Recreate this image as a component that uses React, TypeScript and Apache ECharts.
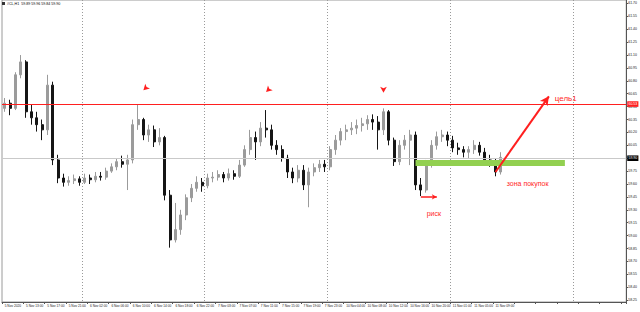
import { useEffect, useRef } from "react";
import * as echarts from "echarts";

const headerText = "#CL,H1  59.89 59.96 59.84 59.90";

const tickLabels = [
  "5 Nov 2020", "5 Nov 13:00", "5 Nov 17:00", "5 Nov 21:00", "6 Nov 02:00", "6 Nov 06:00",
  "6 Nov 10:00", "6 Nov 14:00", "6 Nov 18:00", "6 Nov 22:00", "7 Nov 03:00", "7 Nov 07:00",
  "7 Nov 11:00", "7 Nov 15:00", "7 Nov 19:00", "7 Nov 23:00", "10 Nov 04:00", "10 Nov 08:00",
  "10 Nov 12:00", "10 Nov 16:00", "10 Nov 20:00", "11 Nov 01:00", "11 Nov 05:00", "11 Nov 09:00",
];
const barsPerLabel = 4;
const totalSlots = 117;
const daySeparators = [15, 38, 61, 84, 107];

const opens = [
  60.48, 60.54, 60.48, 60.87, 61.02, 60.44, 60.37, 60.29, 60.23, 60.75,
  59.88, 59.67, 59.62, 59.64, 59.66, 59.62, 59.67, 59.65, 59.69, 59.68,
  59.75, 59.80, 59.86, 59.83, 59.88, 60.29, 60.35, 60.17, 60.23, 60.09,
  60.14, 59.47, 58.95, 59.07, 59.24, 59.44, 59.55, 59.62, 59.58, 59.67,
  59.68, 59.71, 59.67, 59.72, 59.69, 59.82, 60.00, 60.14, 60.09, 60.25,
  60.23, 60.05, 60.00, 59.90, 59.74, 59.67, 59.76, 59.59, 59.74, 59.79,
  59.83, 59.80, 60.00, 60.11, 60.21, 60.23, 60.25, 60.28, 60.30, 60.35,
  60.32, 60.23, 60.44, 60.11, 59.86, 60.05, 60.11, 60.17, 59.59, 59.53,
  59.82, 60.05, 60.15, 60.17, 60.11, 60.02, 60.00, 59.97, 60.00, 60.05,
  59.97, 59.88, 59.86, 59.74,
];
const closes = [
  60.54, 60.48, 60.87, 61.02, 60.44, 60.37, 60.29, 60.23, 60.75, 59.88,
  59.67, 59.62, 59.64, 59.66, 59.62, 59.67, 59.65, 59.69, 59.68, 59.75,
  59.80, 59.86, 59.83, 59.88, 60.29, 60.35, 60.17, 60.23, 60.09, 60.14,
  59.47, 58.95, 59.07, 59.24, 59.44, 59.55, 59.62, 59.58, 59.67, 59.68,
  59.71, 59.67, 59.72, 59.69, 59.82, 60.00, 60.14, 60.09, 60.25, 60.23,
  60.05, 60.00, 59.90, 59.74, 59.67, 59.76, 59.59, 59.74, 59.79, 59.83,
  59.80, 60.00, 60.11, 60.21, 60.23, 60.25, 60.28, 60.30, 60.35, 60.32,
  60.23, 60.44, 60.11, 59.86, 60.05, 60.11, 60.17, 59.59, 59.53, 59.82,
  60.05, 60.15, 60.17, 60.11, 60.02, 60.00, 59.97, 60.00, 60.05, 59.97,
  59.88, 59.86, 59.74, 59.91,
];
const highs = [
  60.60, 60.58, 60.90, 61.10, 61.04, 60.52, 60.44, 60.35, 60.87, 60.79,
  59.94, 59.72, 59.69, 59.71, 59.69, 59.72, 59.71, 59.74, 59.74, 59.79,
  59.84, 59.90, 59.93, 59.94, 60.35, 60.52, 60.37, 60.29, 60.28, 60.25,
  60.16, 59.53, 59.38, 59.30, 59.48, 59.60, 59.69, 59.67, 59.72, 59.74,
  59.76, 59.74, 59.78, 59.76, 59.88, 60.05, 60.23, 60.21, 60.32, 60.46,
  60.29, 60.11, 60.05, 59.94, 59.79, 59.82, 59.82, 59.79, 59.84, 59.88,
  59.88, 60.04, 60.17, 60.25, 60.29, 60.32, 60.35, 60.37, 60.40, 60.41,
  60.39, 60.48, 60.46, 60.14, 60.11, 60.17, 60.23, 60.21, 59.67, 59.88,
  60.11, 60.21, 60.23, 60.21, 60.16, 60.08, 60.04, 60.04, 60.11, 60.09,
  60.02, 59.94, 59.90, 59.97,
];
const lows = [
  60.44, 60.40, 60.46, 60.83, 60.37, 60.29, 60.21, 60.11, 60.17, 59.82,
  59.61, 59.57, 59.58, 59.60, 59.58, 59.60, 59.60, 59.62, 59.64, 59.65,
  59.73, 59.76, 59.79, 59.53, 59.84, 60.23, 60.11, 60.09, 60.03, 60.05,
  59.41, 58.86, 58.92, 59.01, 59.18, 59.39, 59.51, 59.51, 59.55, 59.62,
  59.64, 59.62, 59.64, 59.65, 59.67, 59.80, 59.94, 59.88, 60.04, 60.14,
  60.00, 59.94, 59.86, 59.67, 59.61, 59.62, 59.53, 59.33, 59.69, 59.74,
  59.74, 59.76, 59.94, 60.05, 60.11, 60.17, 60.18, 60.21, 60.23, 60.23,
  60.00, 60.17, 60.05, 59.81, 59.82, 60.00, 59.82, 59.53, 59.46, 59.50,
  59.79, 60.00, 60.09, 60.04, 59.97, 59.94, 59.91, 59.90, 59.95, 59.93,
  59.82, 59.80, 59.69, 59.71,
];

const priceTicks = [
  58.25, 58.4, 58.55, 58.7, 58.85, 59.0, 59.15, 59.3, 59.45, 59.6, 59.75, 59.9,
  60.05, 60.2, 60.35, 60.5, 60.65, 60.8, 60.95, 61.1, 61.25, 61.4, 61.55, 61.7,
];
const yMin = 58.228;
const yMax = 61.74;

const targetLevel = 60.53;
const currentPrice = 59.9;

// annotations in data terms: [bar index, price]
const buyZone = [[77, 59.85], [105, 59.85]];
const bigArrow = [[92, 59.74], [101.5, 60.62]];
const riskArrow = [[78, 59.45], [81, 59.45]];
// pointers: [bar index, price, rotation]
const pointers = [[26, 60.69, 135], [49, 60.67, 135], [71, 60.66, 180]];
const notes = [
  { text: "цель1", at: [103, 60.6], size: 8 },
  { text: "зона покупок", at: [94, 59.61], size: 7 },
  { text: "риск", at: [79, 59.26], size: 7 },
];

const RED = "#ff1f1f";

export default function App() {
  const ref = useRef<HTMLDivElement>(null);
  useEffect(() => {
    if (!ref.current) return;
    const chart = echarts.init(ref.current, null, { renderer: "svg" });
    const categories = Array.from({ length: totalSlots }, (_, i) => "b" + i);
    const candles = opens.map((o, i) => [o, closes[i], lows[i], highs[i]]);
    const font = "Liberation Sans, Arial, sans-serif";

    chart.setOption({
      animation: false,
      backgroundColor: "#ffffff",
      grid: {
        left: 2, right: 12, top: 0, bottom: 10,
        show: true, borderColor: "#9a9a9a", borderWidth: 1,
      },
      graphic: [
        { type: "rect", left: 2, top: 2, shape: { width: 3, height: 3 }, style: { fill: "#333" } },
        {
          type: "text", left: 7, top: 1.5,
          style: { text: headerText, fontSize: 3.6, fill: "#000", fontFamily: font },
        },
      ],
      xAxis: {
        type: "category",
        data: categories,
        boundaryGap: true,
        axisLine: { show: true, lineStyle: { color: "#555", width: 1 } },
        axisTick: { show: true, interval: barsPerLabel - 1, length: 2, lineStyle: { color: "#555" } },
        axisLabel: {
          interval: barsPerLabel - 1,
          fontSize: 3.2,
          color: "#222",
          margin: 2,
          align: "left",
          fontFamily: font,
          formatter: (_v: string, idx: number) => tickLabels[idx / barsPerLabel] ?? "",
        },
        splitLine: {
          show: true,
          interval: (idx: number) => daySeparators.includes(idx),
          lineStyle: { color: "#9a9a9a", type: [1, 2], width: 1 },
        },
      },
      yAxis: {
        type: "value",
        position: "right",
        min: yMin,
        max: yMax,
        scale: true,
        axisLine: { show: true, lineStyle: { color: "#555", width: 1 } },
        axisTick: { show: true, length: 2, customValues: priceTicks, lineStyle: { color: "#555" } },
        axisLabel: {
          customValues: priceTicks,
          fontSize: 3.5,
          color: "#222",
          margin: 2,
          fontFamily: font,
          formatter: (v: number) => v.toFixed(2),
        },
        splitLine: { show: false },
      },
      series: [
        {
          type: "candlestick",
          data: candles,
          barWidth: 2.5,
          itemStyle: {
            color: "#9b9b9b",
            color0: "#151515",
            borderColor: "#9b9b9b",
            borderColor0: "#151515",
            borderWidth: 1,
          },
        },
        {
          type: "line",
          data: [],
          clip: false,
          silent: true,
          markLine: {
            silent: true,
            symbol: ["none", "none"],
            animation: false,
            label: { show: false },
            data: [
              {
                yAxis: currentPrice,
                lineStyle: { color: "#c9c9c9", width: 1, type: "solid" },
                label: {
                  show: true, position: "end", distance: 1,
                  formatter: currentPrice.toFixed(2),
                  backgroundColor: "#000", color: "#fff", fontSize: 3.5,
                  padding: [0.8, 1.2], fontFamily: font,
                },
              },
              {
                yAxis: targetLevel,
                lineStyle: { color: RED, width: 1, type: "solid" },
                label: {
                  show: true, position: "end", distance: 1,
                  formatter: targetLevel.toFixed(2),
                  backgroundColor: RED, color: "#fff", fontSize: 3.5,
                  padding: [0.8, 1.2], fontFamily: font,
                },
              },
              [
                { coord: buyZone[0], lineStyle: { color: "#92d050", width: 6, type: "solid" } },
                { coord: buyZone[1] },
              ],
              [
                { coord: bigArrow[0], symbol: "none", lineStyle: { color: RED, width: 2, type: "solid" } },
                { coord: bigArrow[1], symbol: "arrow", symbolSize: [7, 9] },
              ],
              [
                { coord: riskArrow[0], symbol: "none", lineStyle: { color: RED, width: 1.5, type: "solid" } },
                { coord: riskArrow[1], symbol: "arrow", symbolSize: [4, 5] },
              ],
            ],
          },
          markPoint: {
            silent: true,
            animation: false,
            data: [
              ...pointers.map((p) => ({
                coord: [p[0], p[1]],
                symbol: "arrow",
                symbolSize: [5, 6],
                symbolRotate: p[2],
                itemStyle: { color: RED },
                label: { show: false },
              })),
              ...notes.map((n) => ({
                coord: n.at,
                symbol: "circle",
                symbolSize: 1,
                itemStyle: { color: "rgba(0,0,0,0)" },
                label: {
                  show: true,
                  position: "right",
                  distance: 0,
                  formatter: n.text,
                  color: RED,
                  fontSize: n.size,
                  fontFamily: font,
                },
              })),
            ],
          },
        },
      ],
    });
    return () => chart.dispose();
  }, []);

  return (
    <div
      ref={ref}
      style={{ position: "fixed", left: 0, top: 0, width: 640, height: 312, background: "#fff" }}
    />
  );
}
